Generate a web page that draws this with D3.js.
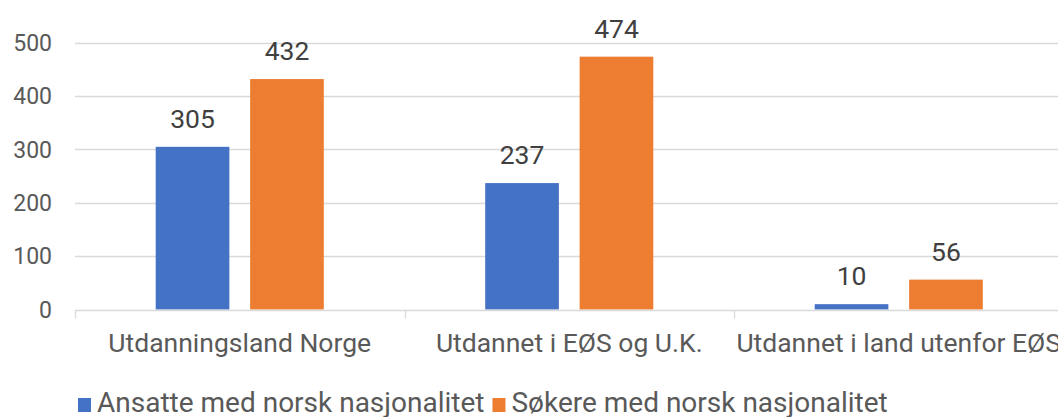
<!DOCTYPE html>
<html>
<head>
<meta charset="utf-8">
<script src="https://cdn.jsdelivr.net/npm/d3@7.9.0/dist/d3.min.js"></script>
<style>
  body { margin: 0; background: #fff; overflow: hidden; }
  text { font-family: Roboto, sans-serif; }
</style>
</head>
<body>
<div id="chart"></div>
<script>
const categories = ['Utdanningsland Norge', 'Utdannet i EØS og U.K.', 'Utdannet i land utenfor EØS'];
const seriesNames = ['Ansatte med norsk nasjonalitet', 'Søkere med norsk nasjonalitet'];
const ansatte = [305, 237, 10];
const sokere = [432, 474, 56];
const yTicks = [0, 100, 200, 300, 400, 500];
const colors = ['#4472C4', '#ED7D31'];

const width = 1058, height = 417;
const svg = d3.select('#chart').append('svg')
  .attr('width', width).attr('height', height);

// plot area (right side runs past the window edge, as in the original)
const x0 = d3.scaleBand().domain(categories).range([75, 1063.5]).paddingInner(0).paddingOuter(0);
const x1 = d3.scaleBand().domain(seriesNames).range([80.7, x0.bandwidth() - 80.7]).paddingInner(0.22);
const y = d3.scaleLinear().domain([0, 500]).range([309.5, 42.8]);

// gridlines
svg.append('g').selectAll('line').data(yTicks.slice(1)).join('line')
  .attr('x1', 75).attr('x2', width)
  .attr('y1', d => Math.round(y(d)) + 0.5).attr('y2', d => Math.round(y(d)) + 0.5)
  .attr('stroke', '#D9D9D9').attr('stroke-width', 1.3);

// y labels
svg.append('g').selectAll('text').data(yTicks).join('text')
  .attr('x', 52).attr('y', d => y(d)).attr('dy', '0.35em')
  .attr('text-anchor', 'end').attr('font-size', 23).attr('fill', '#595959')
  .text(d => d);

// bars
const rows = categories.map((c, i) => ({ cat: c, vals: [ansatte[i], sokere[i]] }));
const groups = svg.append('g').selectAll('g').data(rows).join('g')
  .attr('transform', d => `translate(${x0(d.cat)},0)`);

groups.selectAll('rect').data(d => d.vals.map((v, j) => ({ name: seriesNames[j], v, j }))).join('rect')
  .attr('x', d => x1(d.name)).attr('width', x1.bandwidth())
  .attr('y', d => y(d.v)).attr('height', d => y(0) - y(d.v))
  .attr('fill', d => colors[d.j]);

groups.selectAll('text').data(d => d.vals.map((v, j) => ({ name: seriesNames[j], v, j }))).join('text')
  .attr('x', d => x1(d.name) + x1.bandwidth() / 2).attr('y', d => y(d.v) - 19)
  .attr('text-anchor', 'middle').attr('font-size', 26.5).attr('fill', '#404040')
  .text(d => d.v);

// x axis
const axisY = Math.round(y(0)) + 0.5;
svg.append('line').attr('x1', 75).attr('x2', width).attr('y1', axisY).attr('y2', axisY)
  .attr('stroke', '#D9D9D9').attr('stroke-width', 1.3);
const tickXs = categories.map(c => x0(c)).concat([x0(categories[2]) + x0.bandwidth()]);
svg.append('g').selectAll('line').data(tickXs).join('line')
  .attr('x1', d => Math.round(d) + 0.5).attr('x2', d => Math.round(d) + 0.5)
  .attr('y1', axisY).attr('y2', axisY + 8)
  .attr('stroke', '#D9D9D9').attr('stroke-width', 1.3);

svg.append('g').selectAll('text').data(categories).join('text')
  .attr('x', d => x0(d) + x0.bandwidth() / 2).attr('y', 352)
  .attr('text-anchor', 'middle').attr('font-size', 26.5).attr('fill', '#595959')
  .text(d => d);

// legend
const legend = svg.append('g').attr('transform', 'translate(78,0)');
let lx = 0;
seriesNames.forEach((name, i) => {
  const g = legend.append('g').attr('transform', `translate(${lx},0)`);
  g.append('rect').attr('x', 0).attr('y', 398).attr('width', 13).attr('height', 14).attr('fill', colors[i]);
  const t = g.append('text').attr('x', 19).attr('y', 412)
    .attr('font-size', 28).attr('fill', '#595959').text(name);
  lx += 19 + t.node().getComputedTextLength() + 8;
});
</script>
</body>
</html>
